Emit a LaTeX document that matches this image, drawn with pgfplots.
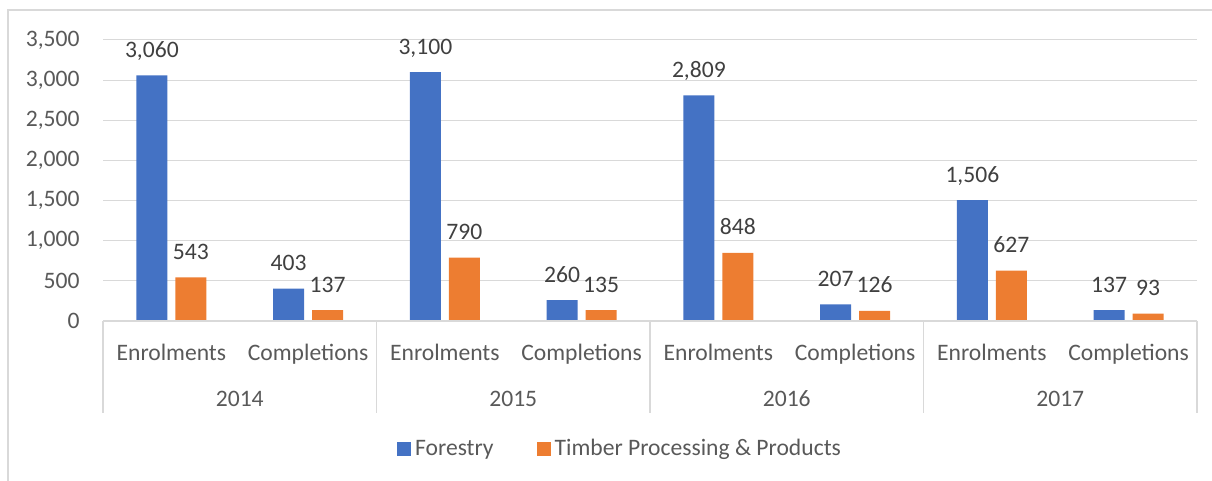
\documentclass[border=0pt]{standalone}
\usepackage{pgfplots}
\pgfplotsset{compat=1.18}
\usepackage{fontspec}
\setmainfont{Carlito}
\definecolor{cblue}{HTML}{4472C4}
\definecolor{corange}{HTML}{ED7D31}
\definecolor{gridc}{HTML}{D9D9D9}
\definecolor{txt}{HTML}{595959}
\definecolor{lbl}{HTML}{404040}
\newcommand{\cf}{\fontsize{11.8}{14}\selectfont}
\begin{document}
\begin{tikzpicture}
\path[use as bounding box] (0,0) rectangle (606pt,-240.5pt);
\draw[gridc, line width=0.6pt] (4pt,-240.5pt) -- (4pt,-5pt) -- (606pt,-5pt);
\begin{axis}[
  at={(51.5pt,-160.5pt)}, anchor=south west,
  scale only axis, width=547pt, height=140.5pt,
  xmin=-0.5, xmax=7.5, ymin=0, ymax=3500,
  enlargelimits=false, clip=false,
  ybar=4pt, bar width=15.5pt,
  axis line style={draw=none},
  ytick={0,500,...,3500},
  ymajorgrids, grid style={gridc, line width=0.5pt},
  major tick length=0pt,
  xtick={0,...,7},
  xticklabels={Enrolments,Completions,Enrolments,Completions,Enrolments,Completions,Enrolments,Completions},
  xticklabel style={font=\cf, text=txt, anchor=base, inner sep=0pt, yshift=-19.5pt},
  yticklabel style={font=\cf, text=txt, anchor=east, inner sep=0pt, xshift=-11.5pt},
  /pgf/number format/assume math mode=true,
  /pgf/number format/1000 sep={,},
  nodes near coords,
  every node near coord/.append style={font=\cf, text=lbl, anchor=base, inner sep=0pt, yshift=9pt,
     /pgf/number format/assume math mode=true, /pgf/number format/1000 sep={,}},
  legend style={at={(0.4735,-0.4555)}, anchor=center, draw=none, fill=none,
     legend columns=2, font=\cf, text=txt,
     /tikz/every even column/.append style={column sep=19.5pt}},
  legend image code/.code={\fill[#1] (0pt,-3.5pt) rectangle (7pt,3.5pt);},
  legend cell align=left,
]
\addplot[fill=cblue, draw=none] coordinates {(0,3060) (1,403) (2,3100) (3,260) (4,2809) (5,207) (6,1506) (7,137)};
\addplot[fill=corange, draw=none] coordinates {(0,543) (1,137) (2,790) (3,135) (4,848) (5,126) (6,627) (7,93)};
\legend{Forestry, Timber Processing \& Products}
\draw[gridc, line width=0.6pt] (axis cs:-0.5,0) -- (axis cs:7.5,0);
\draw[gridc, line width=0.6pt] (axis cs:-0.5,0) -- ([yshift=-46pt]axis cs:-0.5,0);
\draw[gridc, line width=0.6pt] (axis cs:1.5,0) -- ([yshift=-46pt]axis cs:1.5,0);
\draw[gridc, line width=0.6pt] (axis cs:3.5,0) -- ([yshift=-46pt]axis cs:3.5,0);
\draw[gridc, line width=0.6pt] (axis cs:5.5,0) -- ([yshift=-46pt]axis cs:5.5,0);
\draw[gridc, line width=0.6pt] (axis cs:7.5,0) -- ([yshift=-46pt]axis cs:7.5,0);
\node[font=\cf, text=txt, anchor=base, inner sep=0pt] at ([yshift=-42.5pt]axis cs:0.5,0) {2014};
\node[font=\cf, text=txt, anchor=base, inner sep=0pt] at ([yshift=-42.5pt]axis cs:2.5,0) {2015};
\node[font=\cf, text=txt, anchor=base, inner sep=0pt] at ([yshift=-42.5pt]axis cs:4.5,0) {2016};
\node[font=\cf, text=txt, anchor=base, inner sep=0pt] at ([yshift=-42.5pt]axis cs:6.5,0) {2017};
\end{axis}
\end{tikzpicture}
\end{document}
